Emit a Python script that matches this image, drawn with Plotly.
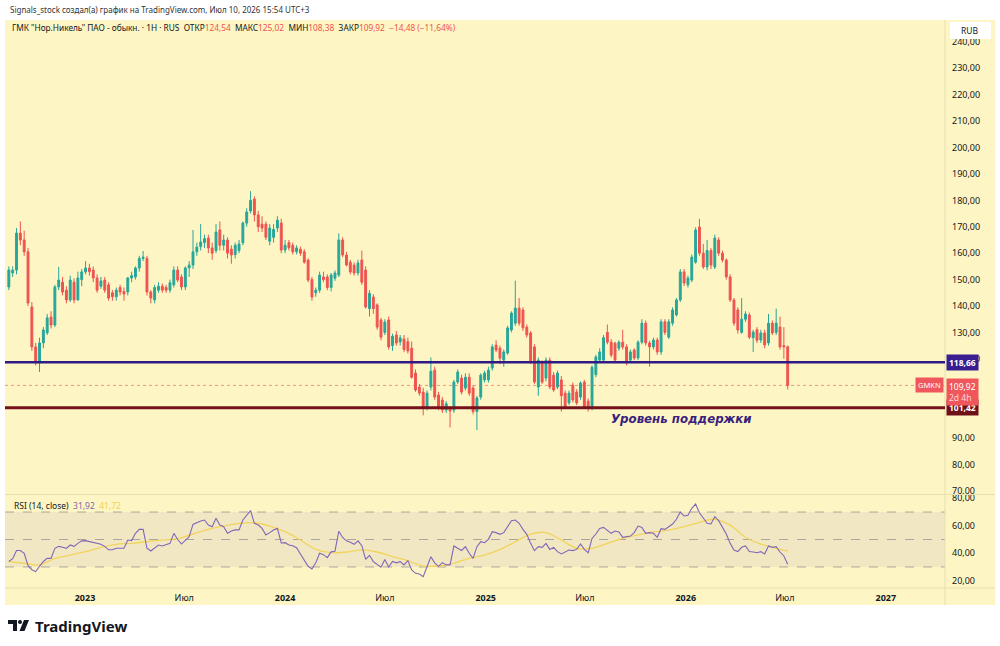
import pandas as pd
import plotly.graph_objects as go

# ---------------- data (weekly candles) ----------------
first_week = "2022-08-15"

opens = [147.2, 152.5, 153.6, 167.6, 165.0, 160.5, 139.6, 124.5, 118.4, 126.0,
         129.8, 135.8, 132.8, 147.2, 149.0, 146.0, 142.3, 149.0, 142.3, 150.0,
         152.9, 154.4, 153.6, 150.6, 147.5, 149.8, 148.0, 145.0, 143.5, 147.0,
         145.5, 145.3, 150.6, 151.0, 154.4, 158.0, 158.0, 145.3, 142.3, 146.0,
         147.5, 147.0, 146.0, 148.0, 153.6, 151.0, 147.2, 154.4, 155.5, 160.5,
         162.5, 164.0, 165.7, 162.0, 161.0, 168.8, 163.0, 165.0, 161.5, 159.5,
         161.0, 163.9, 171.4, 176.0, 180.5, 174.5, 171.0, 171.0, 164.5, 166.0,
         169.5, 171.4, 161.2, 164.0, 163.0, 160.5, 161.5, 160.5, 157.4, 150.0,
         145.0, 146.0, 151.0, 151.0, 147.0, 150.5, 151.7, 165.0, 159.3, 156.6,
         155.5, 152.5, 157.4, 153.6, 139.0, 143.4, 140.4, 134.7, 130.0, 134.7,
         125.0, 129.0, 126.4, 127.5, 126.5, 124.0, 114.6, 109.3, 107.4, 101.7,
         109.3, 115.7, 106.3, 104.4, 100.6, 101.0, 100.6, 111.2, 112.7, 108.9,
         113.0, 108.9, 100.0, 105.5, 112.0, 112.0, 116.5, 125.2, 124.0, 119.5,
         122.2, 130.9, 133.5, 139.2, 138.5, 132.0, 129.8, 124.5, 109.3, 118.4,
         112.7, 119.5, 113.8, 109.3, 112.0, 107.0, 103.3, 110.0, 107.4, 105.5,
         111.2, 104.0, 101.3, 114.0, 119.5, 119.5, 130.0, 126.3, 125.9, 124.0,
         126.3, 124.5, 119.5, 123.3, 120.3, 126.3, 133.5, 126.0, 124.5, 127.1,
         122.6, 134.0, 128.2, 133.5, 136.6, 142.3, 152.9, 148.0, 149.8, 156.6,
         169.9, 160.0, 154.8, 161.0, 154.8, 165.0, 160.0, 157.4, 151.0, 142.3,
         138.5, 130.0, 135.0, 136.6, 128.0, 131.0, 127.1, 129.8, 126.0, 133.5,
         130.0, 132.0, 125.0, 124.54]

highs = [155.0, 155.0, 169.5, 172.0, 168.5, 162.0, 141.5, 126.0, 128.0, 132.0,
         137.0, 138.0, 148.0, 154.8, 151.0, 147.5, 151.5, 150.5, 153.0, 154.0,
         157.0, 156.0, 155.0, 152.0, 151.0, 151.0, 149.0, 146.0, 147.0, 148.0,
         147.0, 151.0, 153.0, 155.0, 159.0, 160.8, 159.0, 146.0, 148.0, 149.0,
         148.5, 148.0, 150.0, 155.0, 155.0, 152.0, 155.0, 157.0, 168.8, 164.0,
         171.0, 167.0, 167.0, 164.0, 171.0, 172.0, 167.0, 166.0, 163.0, 164.0,
         165.0, 172.0, 177.0, 183.5, 181.5, 176.0, 174.0, 172.0, 171.0, 171.0,
         174.0, 173.0, 165.0, 165.0, 164.0, 163.0, 162.5, 161.5, 158.0, 151.0,
         147.0, 153.0, 153.0, 152.0, 152.5, 153.5, 167.5, 166.0, 160.5, 157.5,
         156.5, 157.5, 161.0, 155.0, 146.0, 144.5, 141.0, 135.5, 135.0, 136.0,
         129.5, 130.5, 129.0, 129.0, 128.0, 126.5, 116.0, 110.5, 109.0, 108.0,
         120.5, 117.0, 107.5, 105.5, 104.0, 102.0, 112.0, 116.0, 114.0, 114.5,
         114.5, 110.0, 106.0, 114.5, 115.5, 117.0, 125.5, 127.0, 125.0, 123.5,
         132.5, 138.0, 149.6, 143.0, 139.5, 133.0, 130.5, 125.5, 120.5, 119.5,
         120.5, 120.5, 115.0, 115.5, 113.5, 108.0, 108.0, 111.0, 108.5, 111.5,
         112.0, 105.0, 117.5, 121.5, 124.0, 129.0, 133.0, 127.5, 126.5, 127.0,
         131.0, 125.5, 123.5, 124.0, 127.0, 135.0, 134.5, 126.8, 128.0, 128.0,
         135.0, 135.0, 135.0, 139.5, 143.0, 154.0, 154.0, 151.5, 159.5, 169.8,
         173.0, 163.5, 165.0, 162.0, 167.0, 166.0, 161.0, 158.0, 152.0, 143.0,
         139.5, 143.0, 138.0, 137.5, 131.0, 132.0, 131.0, 131.0, 137.0, 134.5,
         139.0, 136.0, 132.0, 125.02]

lows = [146.0, 151.0, 152.0, 163.0, 159.0, 140.0, 123.0, 117.5, 115.0, 124.0,
        129.0, 131.5, 132.0, 146.0, 144.0, 141.0, 141.5, 141.0, 142.0, 147.5,
        152.0, 151.5, 149.0, 145.0, 146.5, 145.0, 142.0, 142.0, 142.0, 144.0,
        142.0, 144.0, 149.0, 150.0, 153.0, 157.0, 144.0, 141.0, 141.0, 145.0,
        145.0, 145.0, 145.0, 147.0, 149.0, 146.0, 146.0, 151.0, 154.0, 159.0,
        161.0, 162.0, 160.0, 157.5, 160.0, 161.0, 161.0, 158.0, 156.0, 158.0,
        160.0, 163.0, 170.0, 175.0, 172.0, 168.0, 168.0, 165.0, 163.0, 164.0,
        168.0, 160.0, 160.0, 161.0, 159.5, 159.5, 159.0, 156.0, 149.0, 142.0,
        143.5, 145.0, 149.0, 146.0, 145.5, 149.5, 151.0, 158.5, 155.0, 152.0,
        151.5, 151.5, 148.0, 139.0, 136.0, 137.0, 131.0, 127.0, 129.0, 123.5,
        123.0, 125.0, 125.0, 122.5, 122.0, 112.5, 107.5, 106.0, 98.6, 100.5,
        108.0, 104.5, 100.5, 99.5, 99.5, 94.0, 99.5, 110.5, 106.5, 108.0,
        106.0, 99.0, 93.0, 104.5, 111.0, 111.0, 115.5, 122.5, 118.0, 117.0,
        121.5, 130.0, 132.5, 132.5, 130.5, 128.0, 118.0, 110.5, 106.0, 110.5,
        111.5, 108.5, 107.5, 108.5, 100.0, 101.0, 102.5, 103.5, 102.5, 104.5,
        101.0, 100.0, 100.5, 113.0, 119.0, 119.0, 125.5, 120.5, 119.0, 123.0,
        123.5, 117.5, 118.5, 119.5, 119.5, 125.5, 125.0, 117.0, 123.5, 121.5,
        121.5, 129.0, 127.5, 132.5, 136.0, 141.5, 147.5, 147.0, 149.0, 156.0,
        159.0, 154.0, 153.5, 154.0, 154.0, 159.0, 156.5, 150.0, 141.5, 132.5,
        129.5, 129.5, 134.0, 127.5, 122.6, 126.0, 126.0, 124.0, 125.0, 129.0,
        129.0, 123.5, 120.0, 108.38]

closes = [153.6, 153.6, 167.6, 165.0, 160.5, 141.1, 124.5, 118.4, 126.0, 130.9,
          135.5, 132.8, 147.2, 149.8, 145.3, 142.3, 149.8, 142.3, 150.6, 152.9,
          154.4, 153.0, 150.6, 146.0, 149.5, 146.0, 143.0, 143.5, 146.0, 145.3,
          144.5, 150.6, 151.5, 154.4, 158.0, 158.5, 145.3, 143.0, 147.0, 147.5,
          146.0, 146.0, 148.8, 153.6, 149.8, 147.2, 154.4, 155.5, 160.5, 162.3,
          164.2, 165.5, 162.0, 160.0, 168.0, 163.0, 165.0, 160.0, 159.3, 163.0,
          163.5, 171.4, 175.6, 180.0, 174.5, 170.0, 169.5, 166.0, 169.5, 169.0,
          172.5, 161.2, 163.0, 162.0, 160.5, 162.0, 160.0, 156.6, 149.8, 143.4,
          146.0, 151.7, 150.0, 147.0, 151.7, 152.5, 165.0, 159.3, 155.5, 152.9,
          152.5, 156.3, 149.0, 139.6, 144.8, 139.0, 132.0, 128.2, 133.9, 124.5,
          128.5, 126.0, 127.9, 123.5, 123.0, 113.0, 108.2, 107.0, 101.7, 107.0,
          115.3, 105.5, 101.7, 100.6, 103.0, 100.2, 111.2, 115.0, 107.4, 113.0,
          107.0, 100.0, 105.2, 113.8, 114.6, 115.7, 124.5, 123.3, 120.2, 122.6,
          131.7, 137.3, 139.2, 133.5, 131.7, 129.0, 118.7, 111.2, 119.5, 111.2,
          119.5, 109.3, 108.2, 114.6, 106.0, 102.0, 107.0, 104.4, 103.3, 110.8,
          101.7, 101.5, 116.8, 120.7, 122.6, 128.0, 126.3, 121.4, 119.5, 126.3,
          124.5, 118.4, 122.6, 120.3, 126.3, 133.5, 126.0, 124.5, 127.1, 122.6,
          134.0, 130.0, 134.0, 138.5, 142.3, 152.9, 148.7, 150.6, 158.5, 168.8,
          160.0, 154.8, 161.0, 155.5, 165.7, 160.0, 157.4, 151.0, 142.3, 133.5,
          130.9, 135.0, 137.0, 128.2, 130.1, 127.0, 129.8, 125.2, 133.5, 129.8,
          133.5, 124.5, 124.54, 109.92]

rsi = [34, 36, 42, 42, 40, 31, 28, 26.6, 30.5, 34,
       36.3, 36.3, 43.6, 45, 44.3, 43.6, 46, 45, 47.2, 49,
       49.2, 48.5, 47.8, 47.2, 46.5, 45, 42.5, 42.5, 43.6, 43.6,
       43.6, 49.6, 49.2, 54.5, 57.4, 57.4, 43.6, 41.6, 43.6, 46,
       45.3, 46.5, 47.2, 54.5, 50, 46.7, 49.6, 52, 61, 62.5,
       63.5, 64.2, 60.5, 59.3, 65.4, 60.5, 59.3, 54.5, 56.2, 57,
       57, 64.2, 67.8, 71, 61.8, 60.5, 58.1, 53.3, 55, 56.9,
       58.1, 47.5, 47.7, 46, 45.5, 44, 39.5, 35, 30.5, 28.5,
       33, 40, 39, 36.8, 41, 41.5, 56, 51.5, 49, 48,
       46.5, 49, 45.5, 35.6, 38.5, 33.9, 31.5, 29.8, 35.5, 30,
       34, 33, 33.9, 31.5, 34.6, 27.8, 25.4, 24.9, 23, 29.8,
       37.5, 33, 30.5, 33.2, 31.5, 31.5, 45.3, 43.6, 42, 44.8,
       40, 36.3, 44.8, 48.4, 47.7, 50.1, 55.7, 55, 53.8, 55,
       59.8, 63.7, 64.2, 61.8, 57.4, 53.8, 47.2, 41.9, 44.8, 44.3,
       47.2, 42.8, 44.3, 41.2, 39.5, 41.2, 42.4, 41.9, 42.8, 46.7,
       42.8, 40.4, 50.8, 54, 58.1, 58.8, 56.9, 54.5, 56.2, 55.5,
       51.6, 52, 52.5, 55, 59.8, 58.8, 54.5, 55, 54.5, 51.6,
       57.9, 57.4, 59.3, 61.3, 64.7, 70, 67.1, 67.6, 72.7, 75.8,
       69.5, 65.4, 61.8, 61.3, 66.6, 63.7, 59.3, 54, 47.2, 42.4,
       41.2, 44.3, 45.3, 41.2, 40.9, 40.4, 41.2, 39.5, 45.3, 44.3,
       44.8, 40.9, 38, 31.92]

# RSI moving average, read at every 4th candle
ma_index = [0, 4, 8, 12, 16, 20, 24, 28, 32, 36, 40, 44, 48, 52, 56, 60, 64, 68,
            72, 76, 80, 84, 88, 92, 96, 100, 104, 108, 112, 116, 120, 124, 128,
            132, 136, 140, 144, 148, 152, 156, 160, 164, 168, 172, 176, 180, 184,
            188, 192, 196, 200, 203]
ma_values = [33.9, 32.7, 31.5, 36.3, 38.7, 41.2, 44.3, 46.5, 47.2, 48.4, 49.6, 50.6,
             54.0, 57.4, 59.8, 61.8, 62.2, 59.8, 55.7, 49.6, 42.8, 40.4, 40.9, 42.4,
             40.9, 37.5, 34.6, 30.7, 30.7, 32.7, 36.3, 38.7, 42.8, 48.4, 54.0, 55.0,
             49.6, 43.6, 43.6, 47.2, 50.8, 53.3, 55.5, 56.9, 59.3, 62.5, 64.7, 60.5,
             51.6, 46.7, 43.6, 41.72]

resistance_level = 118.66
support_level = 101.42
last_price = 109.92

# 100,00 and 110,00 sit under the price labels in the reference, so they are not listed
price_ticks = [70, 80, 90, 120, 130, 140, 150, 160, 170, 180, 190, 200,
               210, 220, 230, 240]
price_tick_text = ["70,00", "80,00", "90,00", "120,00", "130,00",
                   "140,00", "150,00", "160,00", "170,00", "180,00", "190,00",
                   "200,00", "210,00", "220,00", "230,00", "240,00"]
rsi_ticks = [20, 40, 60, 80]
rsi_tick_text = ["20,00", "40,00", "60,00", "80,00"]
time_ticks = ["2023-01-01", "2023-07-01", "2024-01-01", "2024-07-01", "2025-01-01",
              "2025-07-01", "2026-01-01", "2026-07-01", "2027-01-01"]
time_tick_text = ["<b>2023</b>", "Июл", "<b>2024</b>", "Июл", "<b>2025</b>", "Июл",
                  "<b>2026</b>", "Июл", "<b>2027</b>"]

# ---------------- styling ----------------
W, H = 1000, 646
L_PX, R_PX, T_PX, B_PX = 5, 945, 20, 588      # plot area in pixels
BG = "#fdf6c4"
GREEN = "#26a69a"
RED = "#ef5350"
FONT = "Noto Sans"
TXT = "#131722"


def px_x(px):
    return (px - L_PX) / (R_PX - L_PX)


def px_y(py):
    return (B_PX - py) / (B_PX - T_PX)


dates = pd.date_range(first_week, periods=len(closes), freq="7D")
ma_dates = [dates[i] for i in ma_index]

fig = go.Figure()
fig.add_trace(go.Candlestick(
    x=dates, open=opens, high=highs, low=lows, close=closes,
    increasing=dict(line=dict(color=GREEN, width=1), fillcolor=GREEN),
    decreasing=dict(line=dict(color=RED, width=1), fillcolor=RED),
    whiskerwidth=0, xaxis="x", yaxis="y", showlegend=False, hoverinfo="skip"))
fig.add_trace(go.Scatter(
    x=ma_dates, y=ma_values, mode="lines", xaxis="x", yaxis="y2",
    line=dict(color="#f2d45c", width=1.3, shape="spline", smoothing=1.0),
    showlegend=False, hoverinfo="skip"))
fig.add_trace(go.Scatter(
    x=dates, y=rsi, mode="lines", xaxis="x", yaxis="y2",
    line=dict(color="#8166b8", width=1.1), showlegend=False, hoverinfo="skip"))

shapes = []
# chart background (yellow block)
shapes.append(dict(type="rect", xref="paper", yref="paper", layer="below",
                   x0=px_x(5), x1=px_x(995), y0=px_y(605), y1=px_y(20),
                   fillcolor=BG, line=dict(width=0)))
# separators
sep = "#e6dfb0"
shapes.append(dict(type="line", xref="paper", yref="paper", x0=1, x1=1,
                   y0=px_y(605), y1=px_y(20), line=dict(color=sep, width=1)))
shapes.append(dict(type="line", xref="paper", yref="paper", x0=0, x1=px_x(995),
                   y0=px_y(494.5), y1=px_y(494.5), line=dict(color=sep, width=1)))
shapes.append(dict(type="line", xref="paper", yref="paper", x0=0, x1=px_x(995),
                   y0=0, y1=0, line=dict(color=sep, width=1)))
# RSI band and levels
shapes.append(dict(type="rect", xref="paper", yref="y2", x0=0, x1=1, y0=30, y1=70,
                   fillcolor="rgba(126,87,194,0.09)", line=dict(width=0), layer="below"))
for lvl in (70, 50, 30):
    shapes.append(dict(type="line", xref="paper", yref="y2", x0=0, x1=1, y0=lvl, y1=lvl,
                       line=dict(color="rgba(120,123,134,0.6)", width=1, dash="dash"),
                       layer="below"))
# horizontal levels on price
shapes.append(dict(type="line", xref="paper", yref="y", x0=0, x1=1,
                   y0=last_price, y1=last_price,
                   line=dict(color="rgba(239,83,80,0.6)", width=1, dash="dot")))
shapes.append(dict(type="line", xref="paper", yref="y", x0=0, x1=1,
                   y0=resistance_level, y1=resistance_level,
                   line=dict(color="#2f1a86", width=2.5)))
shapes.append(dict(type="line", xref="paper", yref="y", x0=0, x1=1,
                   y0=support_level, y1=support_level,
                   line=dict(color="#74111a", width=3)))
# RUB box
shapes.append(dict(type="rect", xref="paper", yref="paper",
                   x0=px_x(950), x1=px_x(991), y0=px_y(39), y1=px_y(22),
                   fillcolor="white", line=dict(width=0)))
# TradingView logo
shapes.append(dict(type="path", xref="paper", yref="paper", fillcolor=TXT,
                   line=dict(width=0),
                   path=(f"M {px_x(8)},{px_y(620)} L {px_x(17)},{px_y(620)} "
                         f"L {px_x(17)},{px_y(631)} L {px_x(13)},{px_y(631)} "
                         f"L {px_x(13)},{px_y(624)} L {px_x(8)},{px_y(624)} Z")))
shapes.append(dict(type="circle", xref="paper", yref="paper", fillcolor=TXT,
                   line=dict(width=0), x0=px_x(18), x1=px_x(22),
                   y0=px_y(624), y1=px_y(620)))
shapes.append(dict(type="path", xref="paper", yref="paper", fillcolor=TXT,
                   line=dict(width=0),
                   path=(f"M {px_x(24)},{px_y(620)} L {px_x(29)},{px_y(620)} "
                         f"L {px_x(24.5)},{px_y(631)} L {px_x(19.5)},{px_y(631)} Z")))

ann = []
sp = "\u00a0"
red_span = lambda s: f'<span style="color:{RED}">{s}</span>'
ann.append(dict(xref="paper", yref="paper", x=px_x(8), y=px_y(10), xanchor="left",
                yanchor="middle", showarrow=False,
                text="Signals_stock создал(а) график на TradingView.com, Июл 10, 2026 15:54 UTC+3",
                font=dict(family=FONT, size=8, color="#333333")))
legend_text = ("ГМК \"Нор.Никель\" ПАО - обыкн. · 1H · RUS" + sp * 2 +
               "ОТКР" + red_span("124,54") + sp * 2 + "МАКС" + red_span("125,02") + sp * 2 +
               "МИН" + red_span("108,38") + sp * 2 + "ЗАКР" + red_span("109,92") + sp * 2 +
               red_span("−14,48 (−11,64%)"))
ann.append(dict(xref="paper", yref="paper", x=px_x(10), y=px_y(28), xanchor="left",
                yanchor="middle", showarrow=False, text=legend_text,
                font=dict(family=FONT, size=8.3, color=TXT)))
ann.append(dict(xref="paper", yref="paper", x=px_x(12), y=px_y(505), xanchor="left",
                yanchor="middle", showarrow=False,
                text=("RSI (14, close)" + sp * 2 + '<span style="color:#7e6aa8">31,92</span>' +
                      sp * 2 + '<span style="color:#efd255">41,72</span>'),
                font=dict(family=FONT, size=8.5, color=TXT)))
ann.append(dict(xref="paper", yref="y", x=px_x(681), y=97.2, xanchor="center",
                yanchor="middle", showarrow=False,
                text="<b><i>Уровень поддержки</i></b>",
                font=dict(family="DejaVu Sans", size=11.8, color="#3a1f7c")))
ann.append(dict(xref="paper", yref="paper", x=px_x(970), y=px_y(30.5), xanchor="center",
                yanchor="middle", showarrow=False, text="RUB",
                font=dict(family=FONT, size=8.5, color=TXT)))
# price labels on the axis
ann.append(dict(xref="paper", yref="y", x=px_x(946), y=resistance_level, xanchor="left",
                yanchor="middle", showarrow=False, text="<b>118,66</b>",
                bgcolor="#3a1d90", borderpad=2,
                font=dict(family=FONT, size=8.5, color="white")))
ann.append(dict(xref="paper", yref="y", x=px_x(946), y=support_level, xanchor="left",
                yanchor="middle", showarrow=False, text="<b>101,42</b>",
                bgcolor="#6e1018", borderpad=2,
                font=dict(family=FONT, size=8.5, color="white")))
ann.append(dict(xref="paper", yref="y", x=px_x(946), y=last_price, xanchor="left",
                yanchor="top", yshift=7, showarrow=False, align="left",
                text='109,92<br><span style="color:#ffd6d6">2d 4h</span>',
                bgcolor="#f0575c", borderpad=2,
                font=dict(family=FONT, size=8.5, color="white")))
ann.append(dict(xref="paper", yref="y", x=px_x(944), y=last_price, xanchor="right",
                yanchor="middle", showarrow=False, text="GMKN",
                bgcolor="#f0575c", borderpad=2,
                font=dict(family=FONT, size=7.5, color="white")))
# footer logo text
ann.append(dict(xref="paper", yref="paper", x=px_x(33), y=px_y(626), xanchor="left",
                yanchor="middle", showarrow=False, text="<b>TradingView</b>",
                font=dict(family=FONT, size=15, color=TXT)))

fig.update_layout(
    width=W, height=H,
    margin=dict(l=L_PX, r=W - R_PX, t=T_PX, b=H - B_PX, pad=0),
    paper_bgcolor="white", plot_bgcolor="rgba(0,0,0,0)",
    showlegend=False, hovermode=False,
    font=dict(family=FONT, size=9, color=TXT),
    xaxis=dict(type="date", range=["2022-08-08", "2027-04-19"], anchor="y2",
               showgrid=False, zeroline=False, showline=False,
               rangeslider=dict(visible=False), tickmode="array",
               tickvals=time_ticks, ticktext=time_tick_text, ticks="",
               ticklabelstandoff=3, tickfont=dict(family=FONT, size=9, color=TXT)),
    yaxis=dict(domain=[px_y(494), 1], range=[68.8, 248.3], side="right", anchor="x",
               showgrid=False, zeroline=False, showline=False, tickmode="array",
               tickvals=price_ticks, ticktext=price_tick_text, ticks="",
               ticklabelstandoff=6, tickfont=dict(family=FONT, size=9, color=TXT)),
    yaxis2=dict(domain=[0, px_y(495)], range=[14.7, 82.4], side="right", anchor="x",
                showgrid=False, zeroline=False, showline=False, tickmode="array",
                tickvals=rsi_ticks, ticktext=rsi_tick_text, ticks="",
                ticklabelstandoff=6, tickfont=dict(family=FONT, size=9, color=TXT)),
    shapes=shapes, annotations=ann,
)

fig.write_html("out.html", config={"displayModeBar": False, "staticPlot": True})
